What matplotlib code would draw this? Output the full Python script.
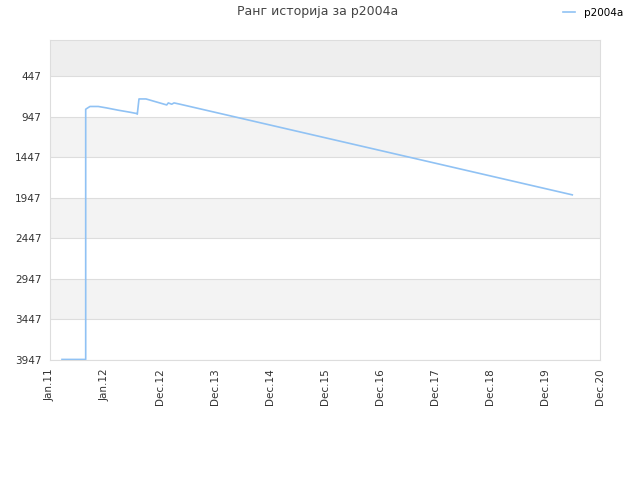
import matplotlib
matplotlib.use("Agg")
import matplotlib.pyplot as plt

# x positions are in tick units (0 = Jan.11, 1 = Jan.12, 2 = Dec.12, ...)
tick_labels = ["Jan.11", "Jan.12", "Dec.12", "Dec.13", "Dec.14", "Dec.15",
               "Dec.16", "Dec.17", "Dec.18", "Dec.19", "Dec.20"]
y_ticks = [447, 947, 1447, 1947, 2447, 2947, 3447, 3947]

hist_x = [0.218, 0.649, 0.649, 0.696, 0.727, 0.878, 1.031, 1.242, 1.455, 1.576,
          1.587, 1.618, 1.745, 2.122, 2.151, 2.213, 2.255, 2.364, 9.496]
hist_rank = [3940, 3940, 854, 833, 820, 820, 838, 866, 891, 907,
             915, 727, 727, 801, 776, 792, 776, 792, 1910]

fig = plt.figure(figsize=(6.4, 4.8), dpi=100)
ax = fig.add_axes([50/640, 120/480, 550/640, 320/480])

# alternating bands
edges = [0] + y_ticks
for i in range(len(edges) - 1):
    if i == 0:
        c = "#eeeeee"
    elif i % 2 == 0:
        c = "#f3f3f3"
    else:
        c = "#ffffff"
    ax.axhspan(edges[i], edges[i+1], color=c, zorder=0, lw=0)
for yt in y_ticks:
    ax.axhline(yt, color="#dddddd", lw=0.8, zorder=1)

ax.plot(hist_x, hist_rank, color="#90c2f4", lw=1.2, label="p2004a", zorder=3)

ax.set_xlim(0, 10)
ax.set_ylim(3947, 0)
ax.set_xticks(range(len(tick_labels)))
ax.set_xticklabels(tick_labels, rotation=90, fontsize=7.5, color="#333333")
ax.set_yticks(y_ticks)
ax.set_yticklabels([str(v) for v in y_ticks], fontsize=7.5, color="#333333")
ax.tick_params(length=0, pad=6)
for s in ax.spines.values():
    s.set_color("#dddddd")

fig.text(0.497, 0.975, "Ранг историја за p2004a", ha="center", va="center",
         fontsize=9, color="#444444")
fig.legend(loc="upper right", bbox_to_anchor=(0.988, 1.003), frameon=False,
           fontsize=7.5, handlelength=1.2)

fig.savefig("out.png", dpi=100)
